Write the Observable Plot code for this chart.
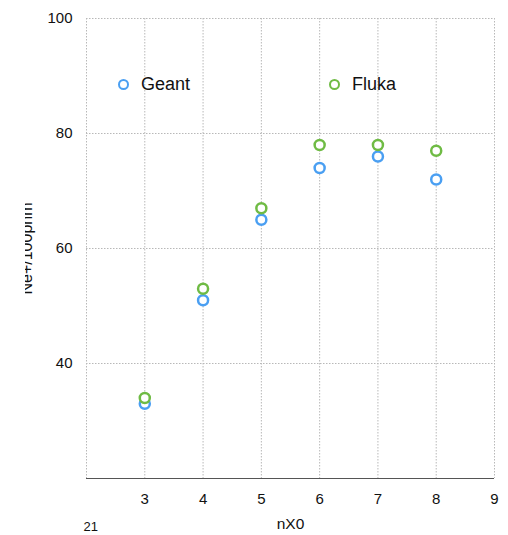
<!DOCTYPE html>
<html>
<head>
<meta charset="utf-8">
<script src="https://cdn.jsdelivr.net/npm/d3@7"></script>
<script src="https://cdn.jsdelivr.net/npm/@observablehq/plot@0.6"></script>
<style>
  html, body { margin: 0; padding: 0; background: white; }
  #wrap { position: relative; width: 508px; height: 535px; font-family: "Liberation Sans", Arial, Helvetica, sans-serif; }
  .leg { position: absolute; display: flex; align-items: center; font-size: 18px; color: #111; }
  .leg span.m { display: inline-block; width: 7px; height: 7px; border-radius: 50%; border-width: 2.5px; border-style: solid; margin-right: 12px; background: white; }
  #cut { position: absolute; left: 0; top: 0; width: 25px; height: 535px; background: white; }
</style>
</head>
<body>
<div id="wrap"></div>
<script>
const nX0 = [3, 4, 5, 6, 7, 8];
const geant = [33, 51, 65, 74, 76, 72];
const fluka = [34, 53, 67, 78, 78, 77];
const xTicks = [3, 4, 5, 6, 7, 8, 9];
const xGrid = [2, 3, 4, 5, 6, 7, 8, 9];
const yTicks = [40, 60, 80, 100];
const seriesNames = ["Geant", "Fluka"];
const seriesColors = ["#4a9ff2", "#6fbb44"];

const rows = [];
nX0.forEach((x, i) => {
  rows.push({x, y: geant[i], s: "Geant"});
  rows.push({x, y: fluka[i], s: "Fluka"});
});

const font = "Liberation Sans, Arial, Helvetica, sans-serif";
const chart = Plot.plot({
  width: 508,
  height: 535,
  marginLeft: 86,
  marginRight: 14,
  marginTop: 18,
  marginBottom: 57,
  style: {fontFamily: font, fontSize: "15px", color: "#111", background: "white", overflow: "visible"},
  x: {domain: [2, 9], label: null},
  y: {domain: [20, 100], label: null},
  color: {domain: seriesNames, range: seriesColors},
  marks: [
    Plot.gridX(xGrid, {stroke: "#b8b8b8", strokeOpacity: 1, strokeDasharray: "1.5,1.5", strokeWidth: 1}),
    Plot.gridY(yTicks, {stroke: "#b8b8b8", strokeOpacity: 1, strokeDasharray: "1.5,1.5", strokeWidth: 1}),
    Plot.ruleY([20], {stroke: "#555", strokeWidth: 1.2}),
    Plot.axisX(xTicks, {tickSize: 0, tickPadding: 15, fontSize: 15, label: null}),
    Plot.axisY(yTicks, {tickSize: 0, tickPadding: 14, fontSize: 15, label: null}),
    Plot.text(["nX0"], {frameAnchor: "bottom", dy: 46, fontSize: 15.5, textAnchor: "middle", lineAnchor: "middle"}),
    Plot.text(["21"], {frameAnchor: "bottom-left", dx: -3, dy: 48, fontSize: 13, textAnchor: "start", lineAnchor: "middle"}),
    Plot.text(["Ne+/100pnm"], {frameAnchor: "left", dx: -60, rotate: -90, fontSize: 16, textAnchor: "middle", lineAnchor: "middle"}),
    Plot.dot(rows, {x: "x", y: "y", stroke: "s", r: 5, strokeWidth: 2.5, fill: "white"})
  ]
});
const wrap = document.getElementById("wrap");
wrap.appendChild(chart);
const cut = document.createElement("div");
cut.id = "cut";
wrap.appendChild(cut);

const legPos = [[118, 74], [329, 74]];
seriesNames.forEach((n, i) => {
  const d = document.createElement("div");
  d.className = "leg";
  d.style.left = legPos[i][0] + "px";
  d.style.top = legPos[i][1] + "px";
  d.innerHTML = `<span class="m" style="border-color:${seriesColors[i]}"></span>${n}`;
  wrap.appendChild(d);
});
</script>
</body>
</html>
